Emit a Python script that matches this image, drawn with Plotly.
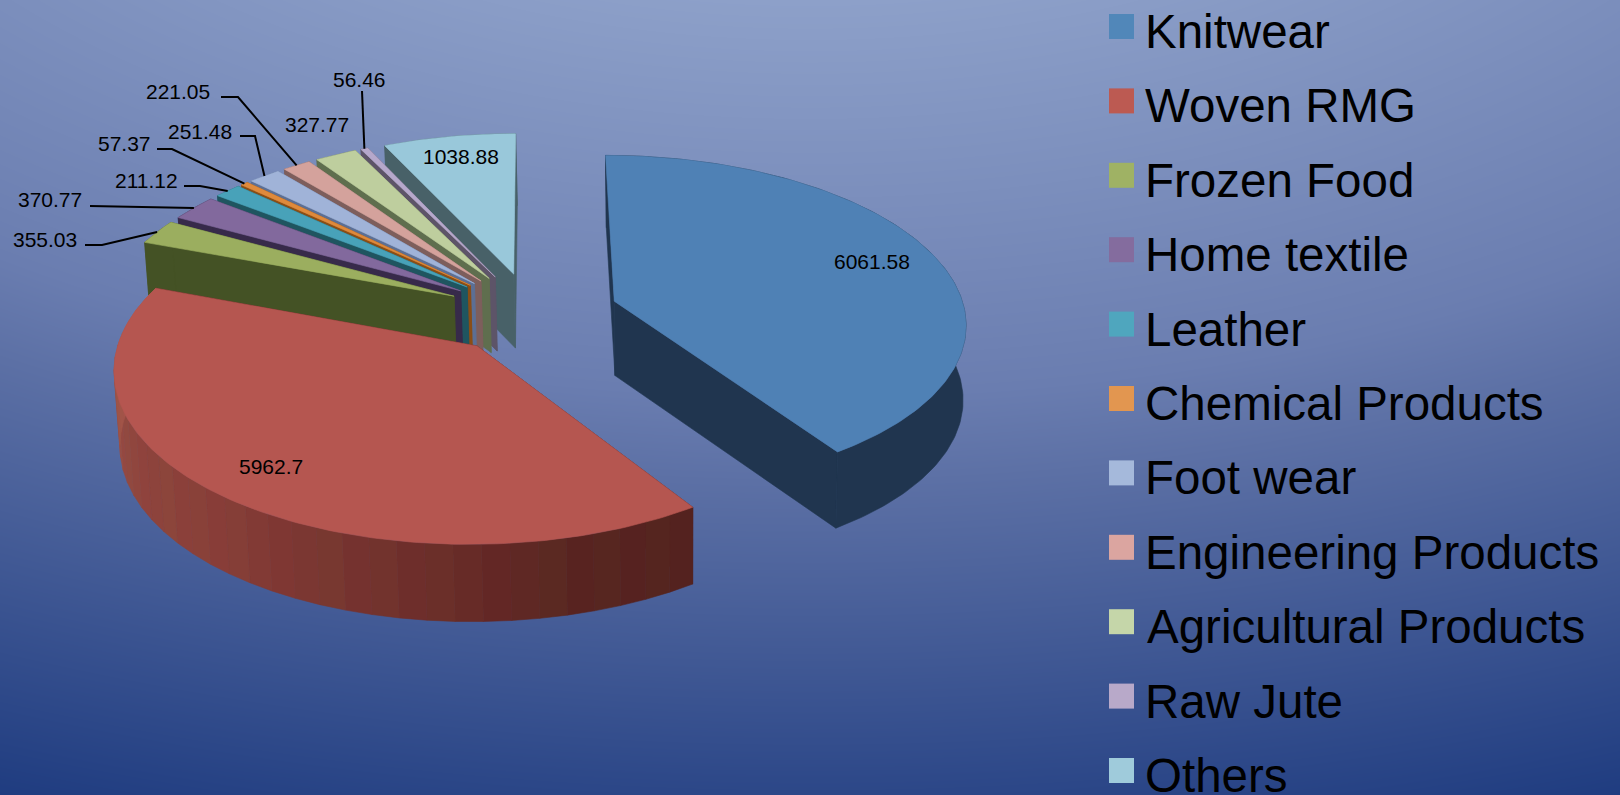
import base64
import struct
import zlib

import numpy as np
import plotly.graph_objects as go

# Export values by product group
categories = ["Knitwear", "Woven RMG", "Frozen Food", "Home textile", "Leather",
              "Chemical Products", "Foot wear", "Engineering Products",
              "Agricultural Products", "Raw Jute", "Others"]
values = [6061.58, 5962.7, 355.03, 370.77, 211.12, 57.37, 251.48, 221.05, 327.77, 56.46, 1038.88]

# Slice styling
top_colors = ["#4F81B5", "#B55650", "#9BAE5F", "#82699D", "#48A2B9", "#DF8A3C",
              "#A0B3D8", "#D4A29C", "#BECE9E", "#B5A8CB", "#99C8DA"]
wall_colors = ["#20354F", "#54221F", "#445225", "#372A4A", "#1F5560", "#8A4E15",
               "#5C6F94", "#7D5E5C", "#5F6E4E", "#5D5468", "#486168"]
legend_colors = ["#5187B9", "#BC5A52", "#9FB264", "#846C9E", "#4FA6BE", "#E29650",
                 "#A5B9DB", "#DBA5A0", "#C5D6A9", "#B8A9C9", "#9FCBDB"]

# Outer wall of the Woven RMG slice, shaded by angle
red_wall_angles = [146, 165, 190, 220, 250, 275, 291]
red_wall_rgb = [(84, 34, 31), (88, 36, 32), (112, 48, 44), (136, 62, 56), (146, 72, 64), (166, 88, 75), (170, 92, 78)]
band_tint = [0, 2, -1, 2, -1, 3, 0, -2]

# Data label centres and leader elbows, in pixels
label_xy = [(872, 261), (271, 466), (45, 239), (50, 199), (146, 180), (124, 143),
            (200, 131), (178, 91), (317, 124), (359, 79), (461, 156)]
leader_elbows = {2: [(85, 245), (102, 245)], 3: [(90, 206)], 4: [(184, 186), (200, 186)],
                 5: [(157, 149), (172, 149)], 6: [(240, 136), (255, 136)],
                 7: [(221, 97), (238, 97)], 9: [(362, 91)]}

# Pie plane camera
CX, CY = 532.0, 313.0
A, B = 351.0, 166.0
PERSPECTIVE = 0.12
EXPLODE = 0.247
DEPTH = 74.5
DEPTH_PERSPECTIVE = 0.03
BOTTOM_SHRINK = 0.9895
BOTTOM_PIVOT_X = 680.0

total = sum(values)
edges = np.concatenate([[0.0], np.cumsum(values) / total * 360.0])


def project(xw, yw, bottom=False):
    w = 1 + PERSPECTIVE * yw
    sx = CX + A * xw / w
    sy = CY - B * yw / w
    if bottom:
        sx = BOTTOM_PIVOT_X + (sx - BOTTOM_PIVOT_X) * BOTTOM_SHRINK
        sy = sy + DEPTH / (1 + DEPTH_PERSPECTIVE * yw)
    return sx, sy


def plane(theta, radius, mid):
    t, m = np.radians(theta), np.radians(mid)
    return EXPLODE * np.sin(m) + radius * np.sin(t), EXPLODE * np.cos(m) + radius * np.cos(t)


def polygon(fig, xs, ys, color, name):
    fig.add_trace(go.Scatter(x=list(xs), y=list(ys), mode="lines", fill="toself", fillcolor=color,
                             line=dict(color=color, width=0.6), name=name,
                             hoverinfo="skip", showlegend=False))


def rgb_hex(rgb):
    return "#%02X%02X%02X" % tuple(int(round(c)) for c in rgb)


def wedge_sides(fig, i):
    start, end = edges[i], edges[i + 1]
    mid = (start + end) / 2
    name = categories[i]
    # Radial cut faces
    for edge in (end, start):
        xo, yo = plane(edge, 0.0, mid)
        xr, yr = plane(edge, 1.0, mid)
        a, b = project(xo, yo), project(xr, yr)
        c, d = project(xr, yr, True), project(xo, yo, True)
        polygon(fig, [a[0], b[0], c[0], d[0], a[0]], [a[1], b[1], c[1], d[1], a[1]], wall_colors[i], name)
    # Curved outer wall
    if i == 1:
        steps = np.append(np.arange(start, end, 4.0), end)
        for n, (t0, t1) in enumerate(zip(steps[:-1], steps[1:])):
            th = np.linspace(t0, t1, 5)
            xw, yw = plane(th, 1.0, mid)
            tx, ty = project(xw, yw)
            bx, by = project(xw, yw, True)
            c = [np.interp((t0 + t1) / 2, red_wall_angles, [p[k] for p in red_wall_rgb]) for k in range(3)]
            c[1] += band_tint[n % len(band_tint)]
            polygon(fig, np.r_[tx, bx[::-1], tx[0]], np.r_[ty, by[::-1], ty[0]], rgb_hex(c), name)
    else:
        th = np.linspace(start, end, max(3, int(end - start) + 2))
        xw, yw = plane(th, 1.0, mid)
        tx, ty = project(xw, yw)
        bx, by = project(xw, yw, True)
        polygon(fig, np.r_[tx, bx[::-1], tx[0]], np.r_[ty, by[::-1], ty[0]], wall_colors[i], name)


def wedge_top(fig, i):
    start, end = edges[i], edges[i + 1]
    mid = (start + end) / 2
    th = np.linspace(start, end, max(3, int(end - start) + 2))
    xw, yw = plane(th, 1.0, mid)
    ox, oy = plane(start, 0.0, mid)
    sx, sy = project(np.r_[ox, xw, ox], np.r_[oy, yw, oy])
    polygon(fig, sx, sy, top_colors[i], categories[i])


def background_uri(width=1620, height=795):
    # Radial fill from the top centre of the page
    yy, xx = np.mgrid[0:height, 0:width]
    t = np.sqrt(((xx - 810.0) / 1.8) ** 2 + (yy + 400.0) ** 2)
    s = np.clip((t - 400.0) / 877.0, 0, 1)
    stops = [0, 0.45, 0.55, 1]
    rgb = [(141, 160, 201), (106, 125, 176), (92, 112, 165), (31, 60, 128)]
    img = np.stack([np.interp(s, stops, [c[k] for c in rgb]) for k in range(3)], axis=-1)
    img = np.round(img).astype(np.uint8)
    raw = b"".join(b"\x00" + img[r].tobytes() for r in range(height))

    def chunk(tag, data):
        return struct.pack(">I", len(data)) + tag + data + struct.pack(">I", zlib.crc32(tag + data))

    png = (b"\x89PNG\r\n\x1a\n" + chunk(b"IHDR", struct.pack(">IIBBBBB", width, height, 8, 2, 0, 0, 0))
           + chunk(b"IDAT", zlib.compress(raw, 9)) + chunk(b"IEND", b""))
    return "data:image/png;base64," + base64.b64encode(png).decode()


fig = go.Figure()

# Painter order: the Knitwear slice, then the small slices from back to front, then Woven RMG
wedge_sides(fig, 0)
wedge_top(fig, 0)
for i in range(len(values) - 1, 1, -1):
    wedge_sides(fig, i)
    wedge_top(fig, i)
wedge_sides(fig, 1)
wedge_top(fig, 1)

# Leader lines end on the rim at the middle of their slice
for i, elbows in leader_elbows.items():
    mid = (edges[i] + edges[i + 1]) / 2
    ex, ey = project(*plane(mid, 1.0, mid))
    fig.add_trace(go.Scatter(x=[p[0] for p in elbows] + [ex], y=[p[1] for p in elbows] + [ey],
                             mode="lines", line=dict(color="#000000", width=2),
                             hoverinfo="skip", showlegend=False))

annotations = []
for i, v in enumerate(values):
    annotations.append(dict(x=label_xy[i][0], y=label_xy[i][1], xref="x", yref="y", text=str(v),
                            showarrow=False, xanchor="center", yanchor="middle",
                            font=dict(family="Liberation Sans", size=21, color="#000000")))

# Legend column
shapes = []
LEGEND_TOP, LEGEND_STEP = 14.0, 74.4
for i, name in enumerate(categories):
    y0 = LEGEND_TOP + i * LEGEND_STEP
    shapes.append(dict(type="rect", xref="x", yref="y", x0=1109, x1=1134, y0=y0, y1=y0 + 25,
                       fillcolor=legend_colors[i], line=dict(width=0), layer="above"))
    annotations.append(dict(x=1143 + (2 if name.startswith("Agri") else 0), y=y0 + 17.5, xref="x", yref="y", text=name,
                            showarrow=False, xanchor="left", yanchor="middle",
                            font=dict(family="Liberation Sans", size=47.5, color="#000000")))

fig.update_layout(
    width=1620, height=795,
    margin=dict(l=0, r=0, t=0, b=0),
    paper_bgcolor="#5C70A5", plot_bgcolor="rgba(0,0,0,0)",
    xaxis=dict(range=[0, 1620], visible=False, fixedrange=True),
    yaxis=dict(range=[795, 0], visible=False, fixedrange=True),
    showlegend=False,
    annotations=annotations,
    shapes=shapes,
    images=[dict(source=background_uri(), xref="paper", yref="paper", x=0, y=1, sizex=1, sizey=1,
                 xanchor="left", yanchor="top", sizing="stretch", layer="below")],
)

fig.write_html("out.html", config=dict(displayModeBar=False))
